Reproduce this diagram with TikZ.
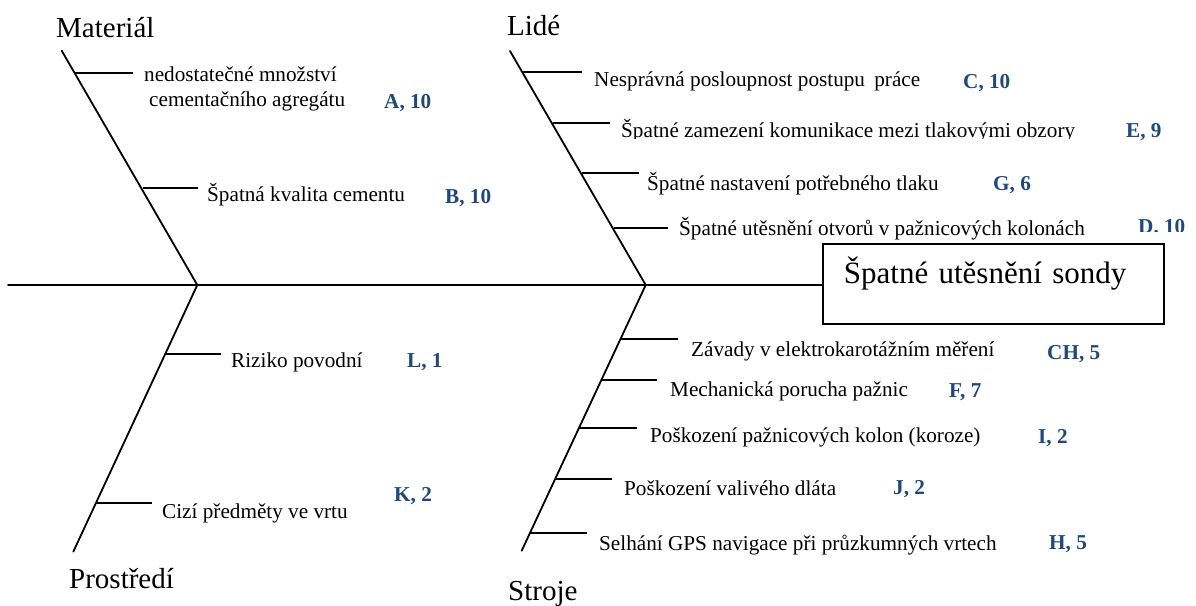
\documentclass[tikz,border=0pt]{standalone}
\usepackage{fontspec}
\setmainfont{Liberation Serif}
\usetikzlibrary{calc}
\definecolor{labblue}{RGB}{31,73,125}
\tikzset{
  bone/.style={line width=1.8pt, line cap=round},
  twig/.style={line width=1.7pt},
  cause/.style={anchor=base west, inner sep=0pt, font=\fontsize{21.2}{25}\selectfont},
  score/.style={anchor=base west, inner sep=0pt, text=labblue, font=\fontsize{21.2}{25}\selectfont\bfseries},
  cat/.style={anchor=base west, inner sep=0pt, font=\fontsize{29}{34}\selectfont},
  effect/.style={draw, line width=1.8pt, anchor=north west, minimum width=341pt, minimum height=80pt,
    inner xsep=21pt, inner ysep=0pt, text width=299pt, align=left, text height=20pt, text depth=20pt,
    font=\fontsize{31}{37}\selectfont}
}
\begin{document}
\begin{tikzpicture}[x=1pt,y=-1pt]
\useasboundingbox (0,0) rectangle (1196,605);
\fill[white] (0,0) rectangle (1196,605);

% effect box and spine
\node[effect] (box) at (822,243) {Špatné utěsnění sondy};
\coordinate (tail) at (8,285);
\draw[bone] (tail) -- (tail -| box.west);

% main bones
\coordinate (J1) at (197.3,285);
\coordinate (J2) at (645.7,285);
\coordinate (Mtop) at (61.7,50.7);
\coordinate (Ltop) at (510,51);
\coordinate (Pbot) at (73.3,551.7);
\coordinate (Sbot) at (521.7,550.7);
\draw[bone] (Mtop) -- (J1);
\draw[bone] (Ltop) -- (J2);
\draw[bone] (Pbot) -- (J1);
\draw[bone] (Sbot) -- (J2);

% category labels
\node[cat] (mat) at (56,37) {Materiál};
\node[cat] (lid) at (507,35) {Lidé};
\node[cat] (pro) at (69,588) {Prostředí};
\node[cat] (str) at (508,600) {Stroje};

% Material twigs
\coordinate (m1a) at (74.4,72.7);   \coordinate (m1b) at (133,72.7);
\coordinate (m2a) at (143,187.7);   \coordinate (m2b) at (198,187.7);
\draw[twig] (m1a) -- (m1b);
\draw[twig] (m2a) -- (m2b);
\node[cause, align=left] (tA) at (144,106.7) {nedostatečné množství\\\hspace{5pt}cementačního agregátu};
\node[score] (sA) at (384,108) {A, 10};
\node[cause] (tB) at (207,201) {Špatná kvalita cementu};
\node[score] (sB) at (445,203) {B, 10};

% Lide twigs
\coordinate (l1a) at (523,71.7);  \coordinate (l1b) at (582,71.7);
\coordinate (l2a) at (553,123);   \coordinate (l2b) at (610,123);
\coordinate (l3a) at (582,173);   \coordinate (l3b) at (639,173);
\coordinate (l4a) at (614,228);   \coordinate (l4b) at (668,228);
\draw[twig] (l1a) -- (l1b);
\draw[twig] (l2a) -- (l2b);
\draw[twig] (l3a) -- (l3b);
\draw[twig] (l4a) -- (l4b);
\node[cause] (tC) at (594,86.7) {Nesprávná posloupnost postupu\hspace{4pt} práce};
\node[score] (sC) at (963,88) {C, 10};
\begin{scope}
\clip (590,100) rectangle (1196,138);
\node[cause] (tE) at (621,137) {Špatné zamezení komunikace mezi tlakovými obzory};
\end{scope}
\node[score] (sE) at (1126,137) {E, 9};
\node[cause] (tG) at (647,190) {Špatné nastavení potřebného tlaku};
\node[score] (sG) at (993,190) {G, 6};
\node[cause] (tD) at (679,235) {Špatné utěsnění otvorů v pažnicových kolonách};
\begin{scope}
\clip (1100,200) rectangle (1196,231);
\node[score] (sD) at (1138,233) {D. 10};
\end{scope}

% Prostredi twigs
\coordinate (p1a) at (165,354);   \coordinate (p1b) at (221,354);
\coordinate (p2a) at (96,502.7);  \coordinate (p2b) at (152,502.7);
\draw[twig] (p1a) -- (p1b);
\draw[twig] (p2a) -- (p2b);
\node[cause] (tL) at (231,367) {Riziko povodní};
\node[score] (sL) at (407,367) {L, 1};
\node[cause] (tK) at (162,518) {Cizí předměty ve vrtu};
\node[score] (sK) at (394,501) {K, 2};

% Stroje twigs
\coordinate (s1a) at (620.4,339.3); \coordinate (s1b) at (678,339.3);
\coordinate (s2a) at (601.4,380);   \coordinate (s2b) at (657,380);
\coordinate (s3a) at (579.1,427.7); \coordinate (s3b) at (637,427.7);
\coordinate (s4a) at (555.2,479);   \coordinate (s4b) at (612,479);
\coordinate (s5a) at (530,533);     \coordinate (s5b) at (587,533);
\draw[twig] (s1a) -- (s1b);
\draw[twig] (s2a) -- (s2b);
\draw[twig] (s3a) -- (s3b);
\draw[twig] (s4a) -- (s4b);
\draw[twig] (s5a) -- (s5b);
\node[cause] (tCH) at (691,356.7) {Závady v elektrokarotážním měření};
\node[score] (sCH) at (1047,359) {CH, 5};
\node[cause] (tF) at (670,396) {Mechanická porucha pažnic};
\node[score] (sF) at (949,397) {F, 7};
\node[cause] (tI) at (650,442.7) {Poškození pažnicových kolon (koroze)};
\node[score] (sI) at (1038,443) {I, 2};
\node[cause] (tJ) at (624,495) {Poškození valivého dláta};
\node[score] (sJ) at (893,494) {J, 2};
\node[cause] (tH) at (599,550.7) {Selhání GPS navigace při průzkumných vrtech};
\node[score] (sH) at (1049,549) {H, 5};
\end{tikzpicture}
\end{document}
